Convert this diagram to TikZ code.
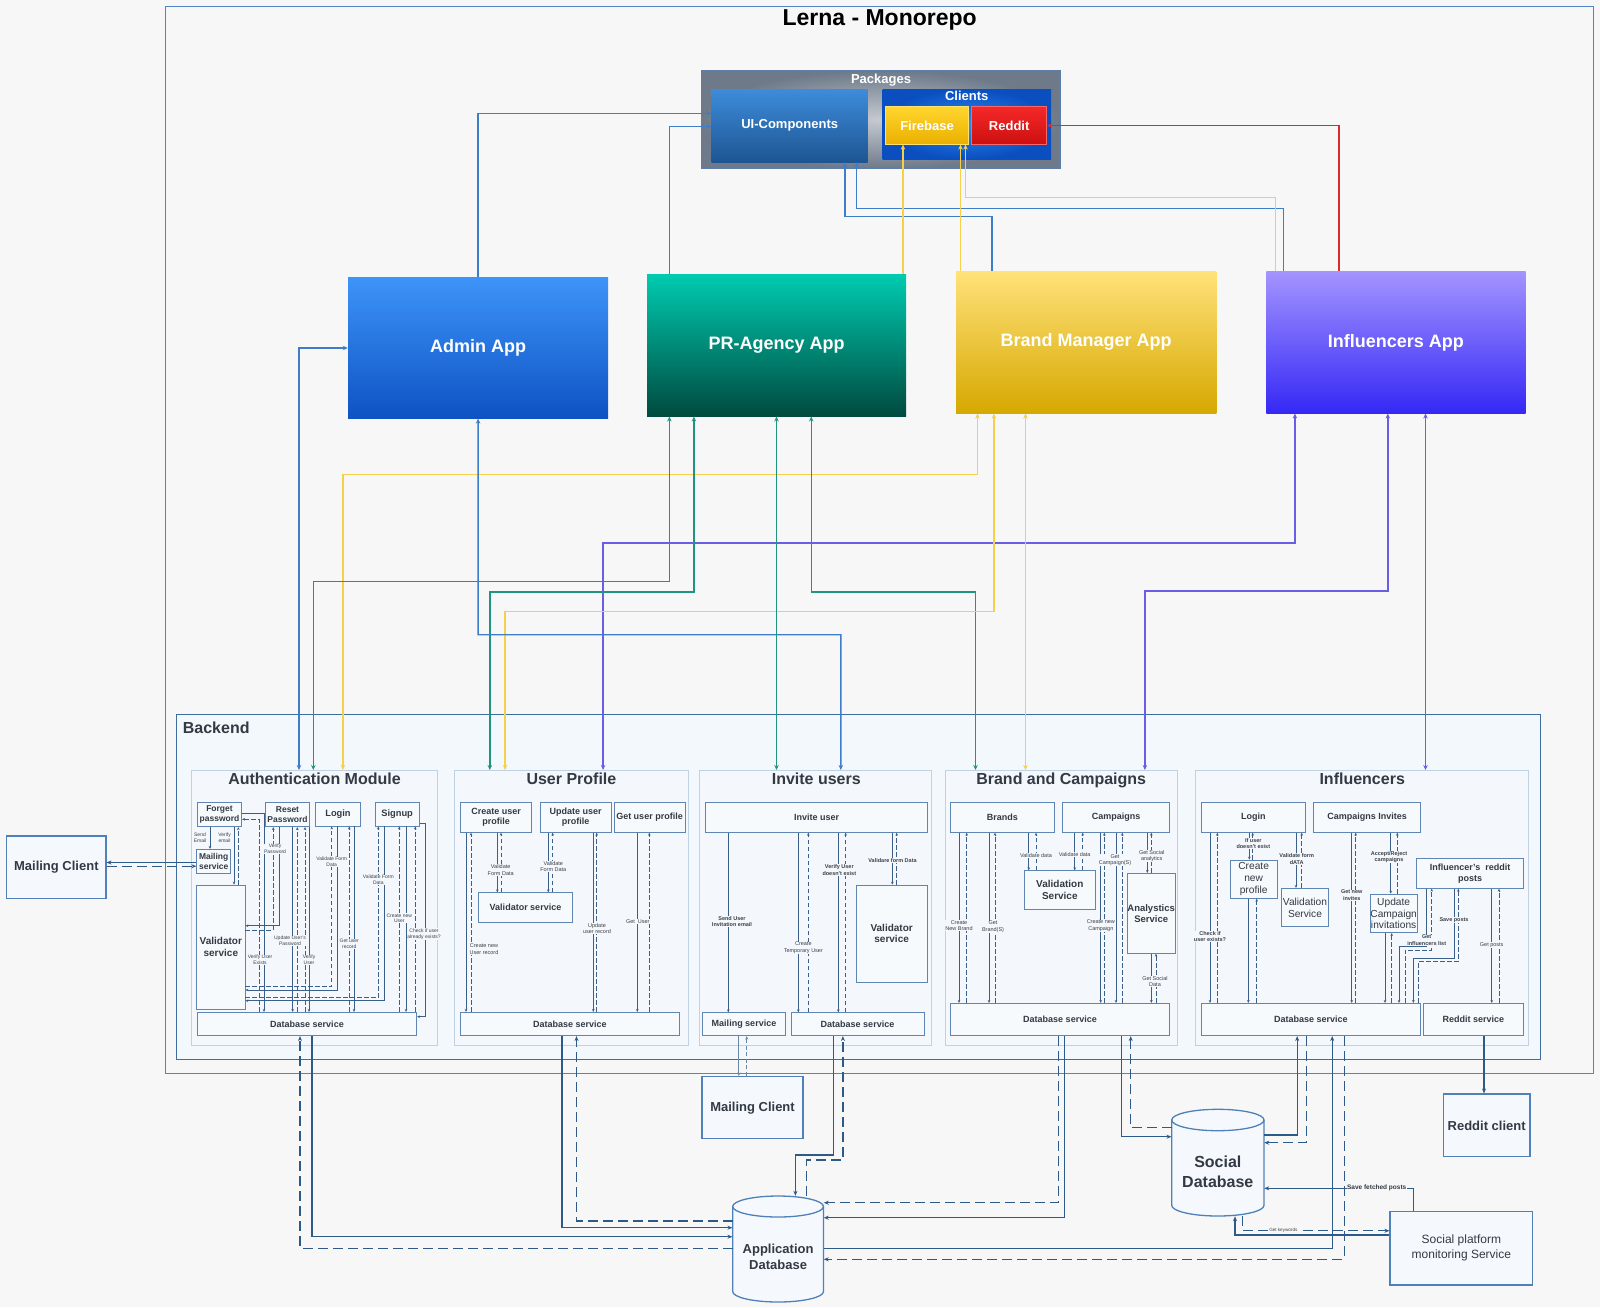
\documentclass[tikz,border=0pt]{standalone}
\usepackage{fontspec}
\setmainfont{Liberation Sans}
\usetikzlibrary{arrows.meta,fit}
\definecolor{bgc}{HTML}{F7F7F7}
\definecolor{frame}{HTML}{5285C2}
\definecolor{bkb}{HTML}{3F6E9E}
\definecolor{bkf}{HTML}{F3F8FC}
\definecolor{modb}{HTML}{BFD1E3}
\definecolor{modf}{HTML}{F4F8FC}
\definecolor{ibord}{HTML}{5F86B2}
\definecolor{ibfill}{HTML}{F7FAFD}
\definecolor{txt}{HTML}{333A44}
\definecolor{labc}{HTML}{3C4148}
\definecolor{ilc}{HTML}{3A5F88}
\definecolor{blc}{HTML}{2E5A8A}
\definecolor{obord}{HTML}{4F80B8}
\definecolor{ofill}{HTML}{F5F9FD}
\definecolor{cblue}{HTML}{3E7DC8}
\definecolor{cteal}{HTML}{1F9580}
\definecolor{cyel}{HTML}{F6D04A}
\definecolor{cvio}{HTML}{6B5EE6}
\definecolor{cred}{HTML}{DE2A2E}
\definecolor{pkgin}{HTML}{C6CAD1}
\definecolor{pkgout}{HTML}{6E7A8A}
\definecolor{pkgb}{HTML}{5C7EA8}
\definecolor{uitop}{HTML}{3E8CDB}
\definecolor{uibot}{HTML}{1D5592}
\definecolor{clin}{HTML}{2C8AF0}
\definecolor{clout}{HTML}{0A4EC0}
\definecolor{fbtop}{HTML}{FFD52E}
\definecolor{fbbot}{HTML}{EBB000}
\definecolor{rdtop}{HTML}{F52828}
\definecolor{rdbot}{HTML}{CC1010}
\definecolor{adtop}{HTML}{3D94F8}
\definecolor{adbot}{HTML}{0E52C4}
\definecolor{prtop}{HTML}{00CBB0}
\definecolor{prbot}{HTML}{004A3F}
\definecolor{bmtop}{HTML}{FFE27A}
\definecolor{bmbot}{HTML}{D6A800}
\definecolor{intop}{HTML}{A394FF}
\definecolor{inbot}{HTML}{3528F5}

\tikzset{
  ib/.style={draw=ibord, fill=ibfill, line width=0.7pt, inner sep=0pt, align=center,
    text=txt, font=\bfseries\fontsize{8.5}{9.8}\selectfont},
  ibn/.style={ib, font=\bfseries\fontsize{9}{10.5}\selectfont},
  ibm/.style={ib, font=\bfseries\fontsize{9.3}{10.6}\selectfont},
  ibbig/.style={ib, font=\bfseries\fontsize{10}{11.5}\selectfont},
  ibreg/.style={ib, font=\fontsize{10.2}{11.8}\selectfont},
  modbox/.style={draw=modb, fill=modf, line width=0.8pt, inner sep=0pt},
  modtitle/.style={anchor=base, text=txt, font=\bfseries\fontsize{16}{18}\selectfont, inner sep=0pt},
  appbox/.style={inner sep=0pt, text=white, font=\bfseries\fontsize{18}{20}\selectfont},
  pkgtxt/.style={text=white, font=\bfseries\fontsize{13}{15}\selectfont, inner sep=0pt},
  sol/.style={draw=ilc, line width=0.75pt, -{Stealth[length=3pt,width=2.6pt]}},
  dsh/.style={sol, dash pattern=on 4.5pt off 2.5pt},
  lab/.style={fill=modf, inner sep=0.4pt, align=center, text=labc, font=\fontsize{5.5}{6.3}\selectfont},
  labs/.style={lab, font=\fontsize{5}{5.8}\selectfont},
  labb/.style={lab, font=\bfseries\fontsize{5.5}{6.3}\selectfont},
  big/.style={draw=blc, line width=1.3pt, -{Stealth[length=5pt,width=4pt]}},
  bigd/.style={big, dash pattern=on 10pt off 5pt},
  thinlink/.style={draw=ilc!75, line width=0.8pt, -{Stealth[length=3.5pt,width=3pt]}},
  conn/.style={line width=1.4pt, {Stealth[length=5pt,width=4.5pt]}-{Stealth[length=5pt,width=4.5pt]}},
  toapp/.style={line width=1.4pt, -{Stealth[length=5pt,width=4.5pt]}},
  outbox/.style={draw=obord, fill=ofill, line width=1.1pt, inner sep=0pt, align=center,
    text=txt, font=\bfseries\fontsize{13}{15.5}\selectfont},
  dbcyl/.style={draw=obord, fill=ofill, line width=1.3pt},
}

% box with text centred between two corners: style, name, x1, y1, x2, y2, text
\newcommand\boxat[7]{%
  \node[#1, minimum width={#5-#3}, minimum height={#6-#4}] (#2) at ({(#3+#5)/2},{(#4+#6)/2}) {#7};}

% solid request arrow down, dashed answer arrow up
\newcommand\vpair[4]{%
  \draw[sol] (#1.south -| #3,0) -- (#2.north -| #3,0);
  \draw[dsh] (#2.north -| #4,0) -- (#1.south -| #4,0);}

% database cylinder: x1 y1 x2 y2 ry
\newcommand\drawcyl[5]{%
  \pgfmathsetmacro\cxr{(#3-#1)/2}%
  \filldraw[dbcyl] (#1,#2+#5) -- (#1,#4-#5)
    arc[start angle=180,end angle=360,x radius=\cxr pt,y radius=#5pt]
    -- (#3,#2+#5)
    arc[start angle=0,end angle=180,x radius=\cxr pt,y radius=#5pt] -- cycle;
  \draw[dbcyl, fill=none] (#1,#2+#5)
    arc[start angle=180,end angle=360,x radius=\cxr pt,y radius=#5pt];}

\begin{document}
\begin{tikzpicture}[x=1pt,y=-1pt]
\fill[bgc] (0,0) rectangle (1600,1307);
\useasboundingbox (0,0) rectangle (1600,1307);

% ---------- monorepo frame ----------
\node[draw=frame, line width=1pt, inner sep=0pt, fit={(165.3,6.1) (1593.9,1073.5)}] (mono) {};
\node[font=\bfseries\fontsize{23}{26}\selectfont, text=black, inner sep=0pt] (monoT) at (879.6,19.5) {Lerna - Monorepo};

% ---------- packages ----------
\node[inner sep=0pt, draw=pkgb, line width=1pt, inner color=pkgin, outer color=pkgout,
      fit={(701.7,70.7) (1060,168.3)}] (pkg) {};
\node[pkgtxt, anchor=base] (pkgT) at (881,83.3) {Packages};
\boxat{pkgtxt, top color=uitop, bottom color=uibot}{ui}{711.7}{89}{867.7}{162}{UI-Components}
\node[inner sep=0pt, inner color=clin, outer color=clout, fit={(882.7,89) (1051,159.3)}] (clients) {};
\node[pkgtxt, anchor=base] (clientsT) at (966.7,100.5) {Clients};
\boxat{pkgtxt, top color=fbtop, bottom color=fbbot, draw=fbtop!70!white, line width=0.6pt}{fb}{885.7}{106.7}{968.3}{144.3}{Firebase}
\boxat{pkgtxt, top color=rdtop, bottom color=rdbot, draw=rdtop!70!white, line width=0.6pt}{reddit}{971.7}{106.7}{1046.7}{144.3}{Reddit}

% ---------- apps ----------
\boxat{appbox, top color=adtop, bottom color=adbot}{admin}{348}{277.6}{608.2}{418.4}{Admin App}
\boxat{appbox, top color=prtop, bottom color=prbot}{pr}{647}{274.5}{906.1}{416.3}{PR-Agency App}
\boxat{appbox, top color=bmtop, bottom color=bmbot}{brand}{956.1}{271.4}{1216.3}{413.3}{Brand Manager App}
\boxat{appbox, top color=intop, bottom color=inbot}{infl}{1266.3}{271.4}{1525.5}{413.3}{Influencers App}

% ---------- backend frame and modules ----------
\node[draw=bkb, fill=bkf, line width=1pt, inner sep=0pt, fit={(176.5,714.3) (1540.8,1059.2)}] (backend) {};
\node[anchor=west, font=\bfseries\fontsize{16}{18}\selectfont, text=txt, inner sep=0pt] (backendT) at (182.7,727.5) {Backend};

\node[modbox, fit={(191.8,770.4) (437.8,1044.9)}] (authM) {};
\node[modbox, fit={(454.1,770.4) (688.8,1044.9)}] (upM) {};
\node[modbox, fit={(699,770.4) (931.6,1044.9)}] (invM) {};
\node[modbox, fit={(944.9,770.4) (1177.6,1044.9)}] (bcM) {};
\node[modbox, fit={(1194.9,770.4) (1528.6,1044.9)}] (infM) {};
\node[modtitle] (authT) at (314.5,784.6) {Authentication Module};
\node[modtitle] (upT) at (571.4,784.6) {User Profile};
\node[modtitle] (invT) at (816.3,784.6) {Invite users};
\node[modtitle] (bcT) at (1061.2,784.6) {Brand and Campaigns};
\node[modtitle] (infT) at (1362.2,784.6) {Influencers};

% ---------- links between apps and packages ----------
\draw[toapp, draw=cblue] (admin.north) |- (ui.west |- 0,113.3);
\draw[toapp, draw=cblue] (pr.north -| 669.4,0) |- (ui.west |- 0,126.5);
\draw[toapp, draw=cblue] (brand.north -| 992,0) -- (992,216.7) -- (845,216.7) -- (ui.south -| 845,0);
\draw[toapp, draw=cblue] (infl.north -| 1283.3,0) -- (1283.3,208.3) -- (856.7,208.3) -- (ui.south -| 856.7,0);
\draw[toapp, draw=cyel] (pr.north -| 903,0) -- (fb.south -| 903,0);
\draw[toapp, draw=cyel] (brand.north -| 960.5,0) -- (fb.south -| 960.5,0);
\draw[toapp, draw=cyel] (infl.north -| 1275.7,0) -- (1275.7,197.7) -- (965.5,197.7) -- (fb.south -| 965.5,0);
\draw[toapp, draw=cred] (infl.north -| 1338.8,0) |- (reddit.east);

% ---------- links between apps and backend modules ----------
\draw[conn, draw=cblue] (authM.north -| 299,0) |- (admin.west);
\draw[conn, draw=cyel] (brand.south -| 977.5,0) -- (977.5,474.5) -- (342.9,474.5) -- (authM.north -| 342.9,0);
\draw[conn, draw=cvio] (infl.south -| 1294.9,0) -- (1294.9,542.9) -- (603.1,542.9) -- (upM.north -| 603.1,0);
\draw[conn, draw=cteal] (pr.south -| 669.4,0) -- (669.4,581.6) -- (313.3,581.6) -- (authM.north -| 313.3,0);
\draw[conn, draw=cteal] (pr.south -| 693.9,0) -- (693.9,591.8) -- (489.8,591.8) -- (upM.north -| 489.8,0);
\draw[conn, draw=cteal] (pr.south -| 811.2,0) -- (811.2,591.8) -- (975.5,591.8) -- (bcM.north -| 975.5,0);
\draw[conn, draw=cvio] (infl.south -| 1387.8,0) -- (1387.8,590.8) -- (1144.9,590.8) -- (bcM.north -| 1144.9,0);
\draw[conn, draw=cyel] (brand.south -| 993.9,0) -- (993.9,611.2) -- (505.1,611.2) -- (upM.north -| 505.1,0);
\draw[conn, draw=cblue] (admin.south) -- (478.1,634.7) -- (840.8,634.7) -- (invM.north -| 840.8,0);
\draw[conn, draw=cteal] (pr.south -| 776.5,0) -- (invM.north -| 776.5,0);
\draw[conn, draw=cyel] (brand.south -| 1025.5,0) -- (bcM.north -| 1025.5,0);
\draw[conn, draw=cvio] (infl.south -| 1425.5,0) -- (infM.north -| 1425.5,0);

% ---------- authentication module ----------
\boxat{ib}{fp}{197.3}{802.3}{241.7}{826.7}{Forget\\password}
\boxat{ib}{rp}{265.7}{802.3}{309.3}{826.7}{Reset\\Password}
\boxat{ibm}{lg}{315.7}{802.3}{360.3}{826}{Login}
\boxat{ibm}{su}{375}{802.3}{419.3}{826}{Signup}
\boxat{ib}{ms}{196.7}{849.3}{230.7}{873.3}{Mailing\\service}
\boxat{ibbig}{vs}{196.7}{885}{245}{1009.3}{Validator\\service}
\boxat{ibn}{adb}{197.3}{1012.3}{416.7}{1035.7}{Database service}

\draw[sol] (fp.south -| 210,0) -- (ms.north -| 210,0);
\vpair{fp}{vs}{234}{238.3}
\draw[sol] (fp.east |- 0,813.3) -| (adb.north -| 264,0);
\draw[dsh] (adb.north -| 259.3,0) |- (fp.east |- 0,819.3);
\draw[sol] (rp.south -| 279.3,0) |- (vs.east |- 0,925.7);
\draw[dsh] (vs.east |- 0,930) -| (rp.south -| 273.3,0);
\vpair{rp}{adb}{292.7}{297.3}
\vpair{rp}{adb}{309}{305}
\draw[dsh] (vs.east |- 0,986.7) -| (lg.south -| 331.7,0);
\draw[sol] (lg.south -| 337.7,0) |- (vs.east |- 0,990);
\vpair{lg}{adb}{354}{349.3}
\draw[dsh] (vs.east |- 0,997.7) -| (su.south -| 378.3,0);
\draw[sol] (su.south -| 384.3,0) |- (vs.east |- 0,1000.7);
\vpair{su}{adb}{406}{399.3}
\draw[dsh] (adb.north -| 415.3,0) -- (su.south -| 415.3,0);
\draw[sol] (su.east |- 0,823.3) -- (425.3,823.3) -- (425.3,1016.7) -- (adb.east |- 0,1016.7);

\node[labs] (l01) at (200,838) {Send\\Email};
\node[labs] (l02) at (224.5,838) {Verify\\email};
\node[labs] (l03) at (275,849) {Verify\\Password};
\node[labs] (l04) at (260,960) {Verify User\\Exists};
\node[labs] (l05) at (290,940.7) {Update User's\\Password};
\node[labs] (l06) at (309,960) {Verify\\User};
\node[labs] (l07) at (331.7,861.7) {Validate Form\\Data};
\node[labs] (l08) at (349.3,944) {Get user\\record};
\node[labs] (l09) at (378.3,880) {Validate Form\\Data};
\node[labs] (l10) at (399.3,918.3) {Create new\\User};
\node[labs] (l11) at (424,934) {Check if user\\already exists?};

% ---------- user profile module ----------
\boxat{ibn}{cu}{460.7}{802.3}{531.7}{832.3}{Create user\\profile}
\boxat{ibn}{uu}{540.3}{802.3}{611}{832.3}{Update user\\profile}
\boxat{ibn}{gu}{614}{802.3}{685}{832.3}{Get user profile}
\boxat{ibn}{uv}{478.3}{892.7}{572.7}{922.3}{Validator service}
\boxat{ibn}{udb}{460.7}{1012.3}{679}{1035.7}{Database service}

\vpair{cu}{udb}{466}{471}
\vpair{cu}{uv}{497.3}{501}
\vpair{uu}{uv}{548.3}{552.7}
\vpair{uu}{udb}{593.3}{596.7}
\vpair{gu}{udb}{637.3}{649.3}

\node[lab] (l12) at (500.7,870) {Validate\\Form Data};
\node[lab] (l13) at (553.3,866.7) {Validate\\Form Data};
\node[lab] (l14) at (484,949) {Create new\\User record};
\node[lab] (l15) at (597,928.3) {Update\\user record};
\node[lab] (l16) at (637.8,921.7) {Get\ \ User};

% ---------- invite users module ----------
\boxat{ibn}{iu}{705.7}{802.3}{927.3}{832.3}{Invite user}
\boxat{ibn}{ims}{702.3}{1012.7}{785.7}{1035.7}{Mailing service}
\boxat{ibn}{idb}{791}{1012.7}{924}{1035.7}{Database service}
\boxat{ibbig}{ivs}{856}{885}{927.3}{982.3}{Validator\\service}

\draw[sol] (iu.south -| 728.3,0) -- (ims.north -| 728.3,0);
\vpair{iu}{idb}{798.3}{808.3}
\vpair{iu}{idb}{838.3}{845.7}
\vpair{iu}{ivs}{892.3}{896.7}

\node[labb] (l17) at (732,921.7) {Send User\\Invitation email};
\node[lab] (l18) at (803.3,947.7) {Create\\Temporary User};
\node[labb] (l19) at (839.3,870) {Verify User\\doesn't exist};
\node[labb] (l20) at (892.5,860.7) {Validare form Data};

% ---------- brand and campaigns module ----------
\boxat{ibn}{br}{950.7}{802.3}{1054}{832.3}{Brands}
\boxat{ibn}{ca}{1062.7}{802.3}{1169.3}{832.3}{Campaigns}
\boxat{ibbig}{bvs}{1024.3}{870.7}{1095.3}{909}{Validation\\Service}
\boxat{ib, font=\bfseries\fontsize{9.5}{11}\selectfont}{an}{1127.3}{873.3}{1175}{953.3}{Analystics\\Service}
\boxat{ibn}{bdb}{950.7}{1003.3}{1169.3}{1035.7}{Database service}

\vpair{br}{bdb}{959}{966.7}
\vpair{br}{bdb}{989}{995}
\vpair{br}{bvs}{1028.7}{1036}
\vpair{ca}{bvs}{1074.7}{1082.7}
\vpair{ca}{bdb}{1100.7}{1104.3}
\vpair{ca}{bdb}{1116}{1122.3}
\vpair{ca}{an}{1147.3}{1151.3}
\vpair{an}{bdb}{1151.3}{1156}

\node[lab] (l21) at (1036,855.3) {Validate data};
\node[lab] (l22) at (1074.7,854.7) {Validate data};
\node[lab] (l23) at (1115,860) {Get\\Campaign(S)};
\node[lab] (l24) at (1151.7,856) {Get Social\\analytics};
\node[lab] (l25) at (959,925.7) {Create\\New Brand};
\node[lab] (l26) at (993,926.7) {Get\\Brand(S)};
\node[lab] (l27) at (1100.8,925.7) {Create new\\Campaign};
\node[lab] (l28) at (1155,981.7) {Get Social\\Data};

% ---------- influencers module ----------
\boxat{ibn}{il}{1201.7}{802.3}{1305}{832.3}{Login}
\boxat{ibn}{ci}{1313.7}{802.3}{1420.7}{832.3}{Campaigns Invites}
\boxat{ibreg}{cp}{1230}{860}{1277.3}{898.3}{Create\\new\\profile}
\boxat{ibreg}{iv}{1281.7}{888.3}{1328.3}{926.7}{Validation\\Service}
\boxat{ibreg}{uc}{1370}{894}{1417.3}{932.7}{Update\\Campaign\\invitations}
\boxat{ib, font=\bfseries\fontsize{9}{11}\selectfont}{rp2}{1416.7}{858.3}{1523.3}{888.3}{Influencer's\ \ reddit\\posts}
\boxat{ibn}{idb5}{1201.7}{1003.3}{1420}{1035.7}{Database service}
\boxat{ibn}{rs}{1423.3}{1003.3}{1523.3}{1035.7}{Reddit service}

\vpair{il}{idb5}{1210}{1217.3}
\vpair{il}{cp}{1249.3}{1252.7}
\vpair{cp}{idb5}{1248.3}{1256.7}
\vpair{il}{iv}{1296}{1301.7}
\vpair{ci}{idb5}{1351.7}{1355.7}
\vpair{ci}{uc}{1390.7}{1397.3}
\vpair{uc}{idb5}{1385}{1391.7}
\vpair{rp2}{rs}{1491.7}{1499}
\draw[sol] (rp2.south -| 1426.7,0) -- (1426.7,946.7) -- (1399,946.7) -- (idb5.north -| 1399,0);
\draw[dsh] (idb5.north -| 1405,0) -- (1405,950) -- (1431.7,950) -- (rp2.south -| 1431.7,0);
\draw[sol] (rp2.south -| 1454,0) -- (1454,958.3) -- (1413.3,958.3) -- (idb5.north -| 1413.3,0);
\draw[dsh] (idb5.north -| 1418.3,0) -- (1418.3,961.7) -- (1458.3,961.7) -- (rp2.south -| 1458.3,0);

\node[labb] (l29) at (1210,936.7) {Check if\\user exists?};
\node[labb] (l30) at (1253.3,843.3) {If user\\doesn't exist};
\node[labb] (l31) at (1296.7,859) {Validate form\\dATA};
\node[labb] (l32) at (1351.7,895) {Get new\\invites};
\node[labb] (l33) at (1389,857) {Accept/Reject\\campaigns};
\node[labb] (l34) at (1426.7,940) {Get\\influencers list};
\node[labb] (l35) at (1454,920) {Save posts};
\node[lab] (l36) at (1491.7,945) {Get posts};

% ---------- outside services ----------
\boxat{outbox}{mc1}{6.7}{836}{106}{898.3}{Mailing Client}
\boxat{outbox}{mc2}{702}{1076.5}{803}{1138.8}{Mailing Client}
\boxat{outbox}{rc}{1443.3}{1094}{1530}{1156.7}{Reddit client}
\boxat{outbox, font=\fontsize{12}{15}\selectfont}{spm}{1390}{1211.7}{1532.7}{1285}{Social platform\\monitoring Service}

\drawcyl{732.7}{1196}{823.5}{1302}{10.5}
\node[inner sep=0pt, fit={(732.7,1196) (823.5,1302)}] (appdb) {};
\node[font=\bfseries\fontsize{13}{15.5}\selectfont, text=txt, align=center, inner sep=0pt] (appdbT) at (778.1,1257) {Application\\Database};
\drawcyl{1171.7}{1109.3}{1264}{1216}{10.7}
\node[inner sep=0pt, fit={(1171.7,1109.3) (1264,1216)}] (sdb) {};
\node[font=\bfseries\fontsize{16}{19.5}\selectfont, text=txt, align=center, inner sep=0pt] (sdbT) at (1217.8,1171.7) {Social\\Database};

% mailing client links
\draw[big, line width=1.1pt] (ms.west |- 0,862.5) -- (mc1.east |- 0,862.5);
\draw[bigd, line width=1.1pt] (mc1.east |- 0,866.2) -- (ms.west |- 0,866.2);
\draw[thinlink] (ims.south -| 738.8,0) -- (mc2.north -| 738.8,0);
\draw[thinlink, dash pattern=on 4pt off 2.5pt] (mc2.north -| 746.7,0) -- (ims.south -| 746.7,0);

% database links
\draw[bigd] (appdb.west |- 0,1248.3) -| (adb.south -| 300,0);
\draw[big] (adb.south -| 312,0) |- (appdb.west |- 0,1236.7);
\draw[big] (udb.south -| 562,0) |- (appdb.west |- 0,1227.7);
\draw[bigd] (appdb.west |- 0,1221) -| (udb.south -| 576.5,0);
\draw[big] (idb.south -| 833.7,0) -- (833.7,1155) -- (795.4,1155) -- (appdb.north -| 795.4,0);
\draw[bigd] (appdb.north -| 806.8,0) -- (806.8,1160) -- (842.9,1160) -- (idb.south -| 842.9,0);
\draw[bigd] (bdb.south -| 1058.4,0) |- (appdb.east |- 0,1202.7);
\draw[big] (bdb.south -| 1064.3,0) |- (appdb.east |- 0,1217.7);
\draw[big] (bdb.south -| 1121.5,0) |- (sdb.west |- 0,1136.7);
\draw[bigd] (sdb.west |- 0,1127.7) -| (bdb.south -| 1130.7,0);
\draw[big] (sdb.east |- 0,1135) -| (idb5.south -| 1297.2,0);
\draw[bigd] (idb5.south -| 1306.8,0) |- (sdb.east |- 0,1142.7);
\draw[big] (appdb.east |- 0,1248.3) -| (idb5.south -| 1332.2,0);
\draw[bigd] (idb5.south -| 1344.2,0) |- (appdb.east |- 0,1259.3);
\draw[big] (rs.south -| 1484,0) -- (rc.north -| 1484,0);

% social platform monitoring links
\draw[big, line width=1.1pt] (spm.north -| 1413.3,0) |- (sdb.east |- 0,1188.3);
\draw[bigd, line width=1.1pt] (sdb.south -| 1242.7,0) -- (1242.7,1230.7) -- (spm.west |- 0,1230.7);
\draw[big, line width=1.1pt] (spm.west |- 0,1235) -- (1235,1235) -- (sdb.south -| 1235,0);
\node[fill=bgc, inner sep=0.5pt, text=txt, font=\bfseries\fontsize{6.5}{7}\selectfont] (sfp) at (1376.7,1187.8) {Save fetched posts};
\node[fill=bgc, inner sep=0.3pt, text=labc, font=\fontsize{4.6}{5}\selectfont] (gkw) at (1283.3,1230.7) {Get keywords};

\end{tikzpicture}
\end{document}
